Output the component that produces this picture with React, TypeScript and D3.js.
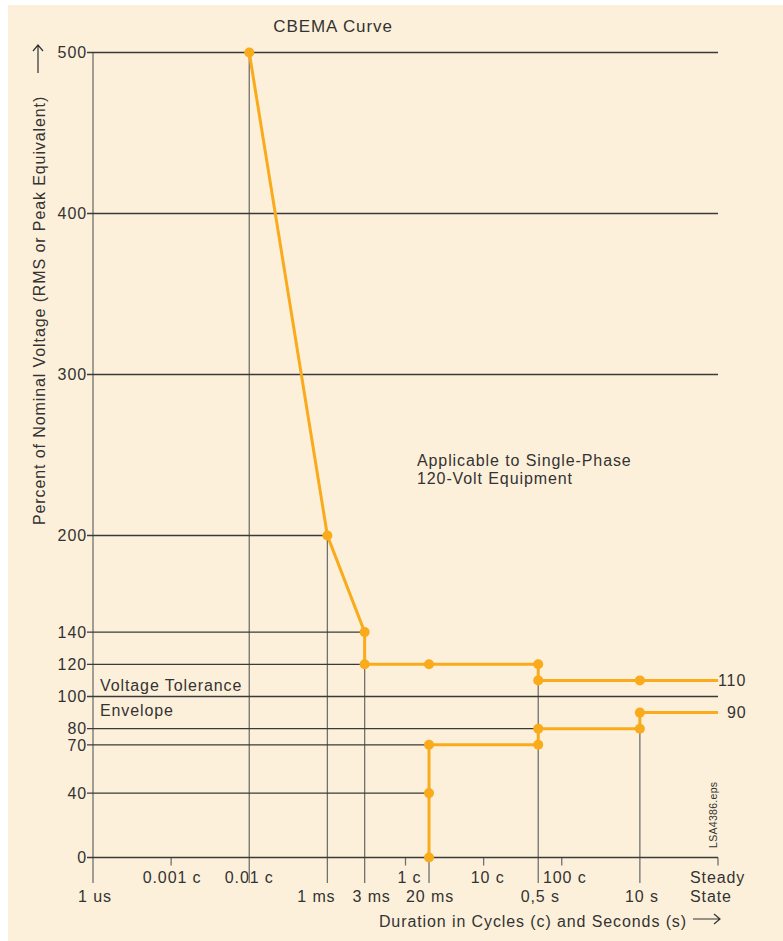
import React from "react";
import * as d3 from "d3";

// ---- data ----
const yTicks = [0, 40, 70, 80, 100, 120, 140, 200, 300, 400, 500];
// horizontal grid: value -> duration (s) where the line ends
const hGridValues = [0, 40, 70, 80, 100, 120, 140, 200, 300, 400, 500];
const hGridEnds = [100, 0.02, 0.02, 0.5, 100, 0.003, 0.003, 0.001, 100, 100, 100];
// vertical grid: duration (s) -> percent where the line starts
const vGridTimes = [1e-6, 1e-4, 1e-3, 3e-3, 0.02, 0.5, 10];
const vGridTops = [500, 500, 200, 120, 0, 110, 80];
const cycleTicks = [1e-5, 1e-4, 1e-2, 0.1, 1];
const cycleLabels = ["0.001 c", "0.01 c", "1 c", "10 c", "100 c"];
const secondTicks = [1e-6, 1e-3, 3e-3, 0.02, 0.5, 10];
const secondLabels = ["1 us", "1 ms", "3 ms", "20 ms", "0,5 s", "10 s"];
const minorTicks = [1e-5, 1e-2, 0.1, 1, 100];
const steadyState = 100;

const upperTimes = [1e-4, 1e-3, 3e-3, 3e-3, 0.02, 0.5, 0.5, 10, 100];
const upperValues = [500, 200, 140, 120, 120, 120, 110, 110, 110];
const lowerTimes = [0.02, 0.02, 0.02, 0.5, 0.5, 10, 10, 100];
const lowerValues = [0, 40, 70, 70, 80, 80, 90, 90];

// ---- styles ----
const BG = "#fdf0da";
const ORANGE = "#f9ab1b";
const TXT = "#333333";
const HLINE = "#3a3a3a";
const VLINE = "#707070";
const FONT = "'Liberation Sans', Arial, sans-serif";
const FS = 16;
const LS = 0.9;
const cycleDx = [1, 0, 4, 4, 3];
const secondDx = [2, -11, 7, 1, 2, 2];

export default function App() {
  const W = 783, H = 941;
  const x = d3.scaleLog().domain([1e-6, 100]).range([93, 718]);
  const y = d3.scaleLinear().domain([0, 500]).range([857.5, 52.5]);
  const axisBottom = y(0);
  const tickBottom = 883;

  const line = d3
    .line<[number, number]>()
    .x((d) => x(d[0]))
    .y((d) => y(d[1]));
  const upper: [number, number][] = upperTimes.map((t, i) => [t, upperValues[i]]);
  const lower: [number, number][] = lowerTimes.map((t, i) => [t, lowerValues[i]]);

  return (
    <svg
      width={W}
      height={H}
      style={{ position: "absolute", left: 0, top: 0 }}
      fontFamily={FONT}
      letterSpacing={LS}
    >
      <rect x={8} y={5} width={W - 8} height={H - 5} fill={BG} />

      {/* title */}
      <text x={333} y={32} textAnchor="middle" fontSize={17} fill={TXT}>
        CBEMA Curve
      </text>

      {/* vertical grid lines */}
      {vGridTimes.map((t, i) => (
        <line
          key={"v" + i}
          x1={x(t)}
          x2={x(t)}
          y1={y(vGridTops[i])}
          y2={tickBottom}
          stroke={VLINE}
          strokeWidth={1.3}
        />
      ))}
      {/* minor ticks */}
      {minorTicks.map((t, i) => (
        <line
          key={"m" + i}
          x1={x(t)}
          x2={x(t)}
          y1={axisBottom}
          y2={axisBottom + 8}
          stroke={VLINE}
          strokeWidth={1.3}
        />
      ))}

      {/* horizontal grid lines */}
      {hGridValues.map((v, i) => (
        <line
          key={"h" + i}
          x1={x(1e-6) - 6}
          x2={x(hGridEnds[i])}
          y1={y(v)}
          y2={y(v)}
          stroke={HLINE}
          strokeWidth={1.3}
        />
      ))}

      {/* y tick labels */}
      {yTicks.map((v) => (
        <text
          key={"yl" + v}
          x={87}
          y={y(v)}
          dy="0.36em"
          textAnchor="end"
          fontSize={FS}
          fill={TXT}
        >
          {v}
        </text>
      ))}

      {/* x labels: cycles */}
      {cycleTicks.map((t, i) => (
        <text
          key={"c" + i}
          x={x(t) + cycleDx[i]}
          y={883}
          textAnchor="middle"
          fontSize={FS}
          fill={TXT}
        >
          {cycleLabels[i]}
        </text>
      ))}
      {/* x labels: seconds */}
      {secondTicks.map((t, i) => (
        <text
          key={"s" + i}
          x={x(t) + secondDx[i]}
          y={902}
          textAnchor="middle"
          fontSize={FS}
          fill={TXT}
        >
          {secondLabels[i]}
        </text>
      ))}
      <text x={x(steadyState) - 28} y={883} fontSize={FS} fill={TXT}>
        Steady
      </text>
      <text x={x(steadyState) - 28} y={902} fontSize={FS} fill={TXT}>
        State
      </text>

      {/* curves */}
      <path d={line(upper) || ""} fill="none" stroke={ORANGE} strokeWidth={3} />
      <path d={line(lower) || ""} fill="none" stroke={ORANGE} strokeWidth={3} />
      {upper.slice(0, -1).map((d, i) => (
        <circle key={"u" + i} cx={x(d[0])} cy={y(d[1])} r={5} fill={ORANGE} />
      ))}
      {lower.slice(0, -1).map((d, i) => (
        <circle key={"l" + i} cx={x(d[0])} cy={y(d[1])} r={5} fill={ORANGE} />
      ))}
      <text x={x(steadyState)} y={y(110)} dy="0.36em" fontSize={FS} fill={TXT}>
        110
      </text>
      <text x={x(steadyState) + 9} y={y(90)} dy="0.36em" fontSize={FS} fill={TXT}>
        90
      </text>

      {/* annotations */}
      <text x={417} y={466} fontSize={FS} fill={TXT}>
        Applicable to Single-Phase
      </text>
      <text x={417} y={484} fontSize={FS} fill={TXT}>
        120-Volt Equipment
      </text>
      <text x={100} y={691} fontSize={FS} fill={TXT}>
        Voltage Tolerance
      </text>
      <text x={100} y={716} fontSize={FS} fill={TXT}>
        Envelope
      </text>
      <text
        transform="translate(717,848) rotate(-90)"
        fontSize={10.5}
        letterSpacing={0.3}
        fill={TXT}
      >
        LSA4386.eps
      </text>

      {/* axis titles */}
      <text
        transform="translate(45,525) rotate(-90)"
        fontSize={FS}
        fill={TXT}
      >
        Percent of Nominal Voltage (RMS or Peak Equivalent)
      </text>
      <path d="M38,73 L38,45 M33,51 L38,45 L43,51" fill="none" stroke={TXT} strokeWidth={1.2} />
      <text x={687} y={927} textAnchor="end" fontSize={FS} fill={TXT}>
        Duration in Cycles (c) and Seconds (s)
      </text>
      <path d="M693,919 L720,919 M714,914 L720,919 L714,924" fill="none" stroke={TXT} strokeWidth={1.2} />
    </svg>
  );
}
